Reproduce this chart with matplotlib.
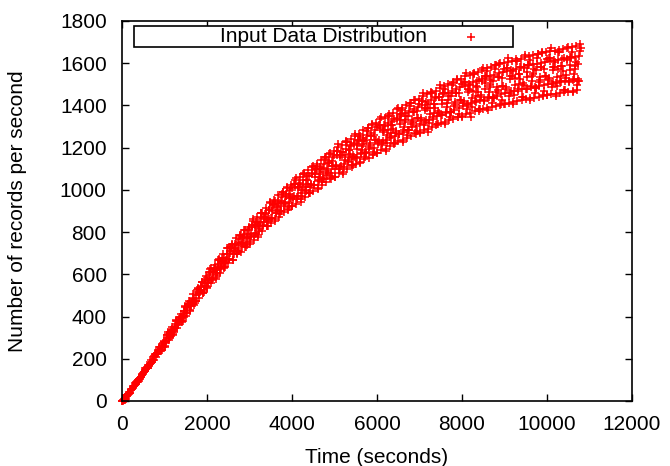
import matplotlib
matplotlib.use("Agg")
import matplotlib.pyplot as plt
from matplotlib.patches import Rectangle
import numpy as np

plt.rcParams["font.family"] = ["Liberation Sans", "DejaVu Sans"]

# sample times (s); each band of points
t_low = np.arange(0, 10800, 100)
t_midlow = np.arange(20, 10800, 100)
t_mid = np.arange(40, 10800, 100)
t_midhigh = np.arange(60, 10800, 100)
t_high = np.arange(80, 10800, 100)
t_a = np.arange(10, 10800, 100)
t_b = np.arange(30, 10800, 100)
t_c = np.arange(50, 10800, 100)
t_d = np.arange(70, 10800, 100)
t_e = np.arange(90, 10800, 100)

y_low = [0, 27, 52, 78, 104, 130, 155, 184, 208, 235, 262, 288, 318, 344, 372, 404, 430, 455, 486, 510,
         540, 558, 588, 605, 630, 655, 668, 694, 708, 730, 752, 764, 788, 803, 828, 842, 862, 872, 893, 905,
         925, 934, 955, 965, 984, 996, 1008, 1025, 1036, 1055, 1062, 1078, 1085, 1100, 1108, 1122, 1130, 1145, 1152, 1168,
         1175, 1190, 1195, 1210, 1216, 1230, 1236, 1248, 1255, 1268, 1272, 1285, 1290, 1300, 1308, 1318, 1322, 1332, 1338, 1346,
         1352, 1360, 1362, 1372, 1376, 1385, 1388, 1394, 1396, 1404, 1408, 1412, 1416, 1420, 1426, 1430, 1434, 1436, 1440, 1446,
         1450, 1452, 1455, 1458, 1462, 1466, 1470, 1472]
y_midlow = [2, 30, 57, 82, 110, 137, 166, 192, 222, 246, 276, 302, 334, 360, 394, 418, 450, 474, 506, 528,
            560, 578, 606, 626, 654, 672, 698, 712, 736, 750, 776, 790, 814, 830, 854, 868, 890, 902, 922, 936,
            955, 966, 985, 996, 1014, 1024, 1042, 1054, 1070, 1082, 1100, 1108, 1124, 1132, 1148, 1156, 1170, 1178, 1192, 1200,
            1215, 1222, 1236, 1244, 1256, 1264, 1276, 1284, 1296, 1302, 1314, 1320, 1332, 1338, 1350, 1354, 1366, 1370, 1380, 1386,
            1396, 1400, 1410, 1414, 1424, 1426, 1436, 1440, 1446, 1452, 1458, 1460, 1468, 1470, 1478, 1480, 1486, 1488, 1494, 1496,
            1502, 1503, 1508, 1510, 1514, 1518, 1520, 1524]
y_mid = [4, 35, 58, 92, 114, 149, 170, 208, 228, 266, 284, 326, 345, 386, 404, 447, 462, 503, 518, 560,
         572, 612, 620, 661, 668, 710, 711, 750, 750, 791, 790, 832, 828, 872, 868, 912, 905, 946, 938, 982,
         970, 1014, 1000, 1045, 1030, 1076, 1060, 1106, 1090, 1136, 1118, 1164, 1142, 1189, 1166, 1213, 1190, 1237, 1212, 1262,
         1236, 1286, 1258, 1308, 1280, 1330, 1300, 1351, 1320, 1372, 1340, 1390, 1358, 1409, 1375, 1427, 1392, 1444, 1406, 1460,
         1422, 1476, 1436, 1490, 1450, 1504, 1462, 1516, 1474, 1528, 1486, 1538, 1496, 1548, 1506, 1558, 1514, 1566, 1522, 1574,
         1530, 1580, 1536, 1588, 1542, 1592, 1548, 1598]
y_midhigh = [7, 38, 65, 96, 124, 153, 183, 212, 244, 274, 304, 336, 366, 398, 428, 460, 488, 518, 544, 574,
             602, 628, 650, 676, 698, 724, 744, 768, 786, 808, 826, 848, 866, 888, 906, 928, 944, 964, 980, 1000,
             1016, 1034, 1048, 1064, 1078, 1094, 1108, 1124, 1138, 1154, 1166, 1180, 1194, 1206, 1220, 1232, 1244, 1258, 1270, 1282,
             1294, 1306, 1318, 1328, 1340, 1352, 1362, 1372, 1384, 1394, 1404, 1414, 1424, 1434, 1442, 1452, 1460, 1470, 1478, 1486,
             1494, 1502, 1510, 1518, 1524, 1532, 1538, 1546, 1552, 1558, 1564, 1570, 1574, 1580, 1584, 1590, 1594, 1598, 1602, 1606,
             1610, 1614, 1616, 1620, 1622, 1626, 1628, 1632]
y_high = [10, 40, 70, 100, 130, 160, 192, 222, 254, 286, 318, 352, 382, 414, 446, 476, 506, 532, 566, 590,
          624, 646, 672, 696, 724, 742, 770, 786, 810, 826, 852, 870, 892, 912, 936, 952, 974, 990, 1010, 1024,
          1046, 1060, 1078, 1092, 1110, 1122, 1142, 1154, 1172, 1186, 1204, 1214, 1230, 1240, 1256, 1266, 1282, 1292, 1308, 1318,
          1334, 1342, 1358, 1366, 1382, 1390, 1404, 1410, 1424, 1432, 1446, 1452, 1466, 1470, 1484, 1492, 1502, 1508, 1520, 1526,
          1538, 1544, 1554, 1558, 1568, 1578, 1584, 1590, 1596, 1600, 1608, 1610, 1618, 1622, 1628, 1632, 1640, 1642, 1648, 1652,
          1658, 1660, 1664, 1668, 1672, 1676, 1682, 1690]

# scattered points in between
y_a = [1, 28, 51, 84, 105, 136, 155, 187, 224, 236, 258, 298, 312, 364, 377, 419, 426, 464, 510, 511,
       535, 573, 576, 631, 633, 673, 667, 700, 743, 730, 746, 783, 778, 835, 829, 868, 854, 887, 931, 909,
       922, 957, 943, 1001, 986, 1023, 1003, 1036, 1082, 1053, 1063, 1098, 1077, 1138, 1116, 1153, 1125, 1158, 1205, 1167,
       1174, 1211, 1185, 1251, 1224, 1263, 1229, 1262, 1311, 1266, 1270, 1308, 1276, 1346, 1313, 1353, 1312, 1346, 1397, 1344,
       1346, 1385, 1347, 1421, 1383, 1423, 1377, 1412, 1464, 1406, 1407, 1446, 1405, 1479, 1438, 1478, 1427, 1460, 1512, 1451,
       1449, 1487, 1443, 1517, 1473, 1513, 1464, 1495]
y_b = [4, 34, 55, 86, 105, 145, 166, 192, 229, 240, 280, 324, 327, 372, 377, 440, 450, 474, 519, 518,
       565, 609, 597, 641, 633, 700, 698, 712, 754, 739, 782, 826, 803, 847, 829, 900, 891, 900, 944, 920,
       964, 1007, 972, 1015, 986, 1060, 1045, 1052, 1097, 1065, 1111, 1155, 1110, 1154, 1116, 1195, 1173, 1176, 1222, 1181,
       1228, 1275, 1222, 1269, 1224, 1310, 1282, 1282, 1330, 1281, 1330, 1379, 1317, 1366, 1313, 1405, 1371, 1368, 1418, 1361,
       1412, 1463, 1392, 1444, 1383, 1480, 1440, 1435, 1487, 1424, 1476, 1527, 1451, 1502, 1438, 1535, 1492, 1484, 1535, 1468,
       1520, 1570, 1490, 1540, 1473, 1570, 1527, 1518]
y_c = [8, 30, 62, 92, 113, 154, 174, 192, 240, 258, 311, 306, 354, 388, 398, 461, 468, 474, 538, 547,
       610, 584, 633, 663, 660, 728, 720, 712, 777, 774, 836, 796, 846, 873, 861, 933, 917, 900, 971, 961,
       1027, 972, 1022, 1045, 1023, 1098, 1075, 1052, 1128, 1112, 1183, 1115, 1167, 1188, 1158, 1238, 1207, 1176, 1257, 1234,
       1309, 1230, 1286, 1307, 1271, 1358, 1320, 1282, 1369, 1340, 1420, 1329, 1388, 1408, 1365, 1458, 1413, 1368, 1461, 1426,
       1511, 1407, 1470, 1488, 1439, 1538, 1486, 1435, 1533, 1493, 1579, 1469, 1532, 1548, 1496, 1593, 1539, 1484, 1582, 1539,
       1626, 1511, 1573, 1588, 1532, 1628, 1573, 1518]
y_d = [8, 35, 69, 89, 123, 154, 176, 219, 240, 258, 311, 327, 380, 380, 426, 461, 472, 528, 538, 547,
       610, 614, 670, 652, 698, 728, 726, 780, 777, 774, 836, 832, 890, 860, 906, 933, 924, 981, 971, 961,
       1027, 1014, 1073, 1030, 1075, 1098, 1083, 1144, 1128, 1112, 1183, 1163, 1225, 1171, 1217, 1238, 1216, 1280, 1257, 1234,
       1309, 1284, 1351, 1288, 1337, 1358, 1330, 1398, 1369, 1340, 1420, 1389, 1460, 1387, 1438, 1458, 1424, 1496, 1461, 1426,
       1511, 1474, 1549, 1466, 1518, 1538, 1498, 1573, 1533, 1493, 1579, 1538, 1612, 1525, 1576, 1593, 1551, 1626, 1582, 1539,
       1626, 1582, 1655, 1564, 1614, 1628, 1585, 1656]
y_e = [10, 36, 69, 96, 131, 158, 180, 223, 255, 279, 325, 334, 380, 400, 449, 469, 481, 534, 566, 581,
       630, 624, 670, 679, 727, 739, 737, 788, 812, 815, 860, 844, 890, 892, 941, 946, 937, 991, 1012, 1009,
       1055, 1028, 1073, 1067, 1115, 1113, 1098, 1155, 1175, 1167, 1215, 1179, 1225, 1213, 1263, 1255, 1233, 1293, 1310, 1296,
       1345, 1302, 1351, 1335, 1388, 1377, 1349, 1412, 1428, 1409, 1460, 1409, 1460, 1439, 1495, 1479, 1445, 1512, 1526, 1502,
       1555, 1497, 1549, 1522, 1579, 1561, 1521, 1590, 1602, 1573, 1625, 1561, 1612, 1583, 1639, 1616, 1574, 1643, 1653, 1622,
       1673, 1605, 1655, 1623, 1679, 1651, 1608, 1673]

x_ticks = [0, 2000, 4000, 6000, 8000, 10000, 12000]
y_ticks = [0, 200, 400, 600, 800, 1000, 1200, 1400, 1600, 1800]
legend_label = "Input Data Distribution"

fig = plt.figure(figsize=(6.7, 4.66), dpi=100)
ax = fig.add_axes([122 / 670, 1 - 401 / 466, 510 / 670, 380 / 466])

mk = dict(ls="none", marker="+", color="#ff0000", ms=5.5, mew=1.1)
bands = [(t_low, y_low), (t_midlow, y_midlow), (t_mid, y_mid), (t_midhigh, y_midhigh), (t_high, y_high),
         (t_a, y_a), (t_b, y_b), (t_c, y_c), (t_d, y_d), (t_e, y_e)]
for t, y in bands:
    ax.plot(t, y, clip_on=False, **mk)

ax.set_xlim(0, 12000); ax.set_ylim(0, 1800)
ax.set_xticks(x_ticks); ax.set_yticks(y_ticks)
ax.tick_params(direction="in", length=5, width=1, top=True, right=True, labelsize=15)
ax.tick_params(axis="y", pad=11)
ax.tick_params(axis="x", pad=10)
for s in ax.spines.values():
    s.set_linewidth(1.2)
ax.set_xlabel("Time (seconds)", fontsize=15, labelpad=10)
ax.set_ylabel("Number of records per second", fontsize=15, labelpad=24)

# gnuplot-style key box
ax.add_patch(Rectangle((12 / 510, 1 - 26 / 380), 379 / 510, 21 / 380, transform=ax.transAxes,
                       fill=True, fc="white", ec="black", lw=1.2, zorder=5))
ax.text(0.396, 0.958, legend_label, transform=ax.transAxes, ha="center", va="center", fontsize=15, zorder=6)
ax.plot([0.684], [0.958], transform=ax.transAxes, zorder=6, **mk)

fig.savefig("out.png", dpi=100)
